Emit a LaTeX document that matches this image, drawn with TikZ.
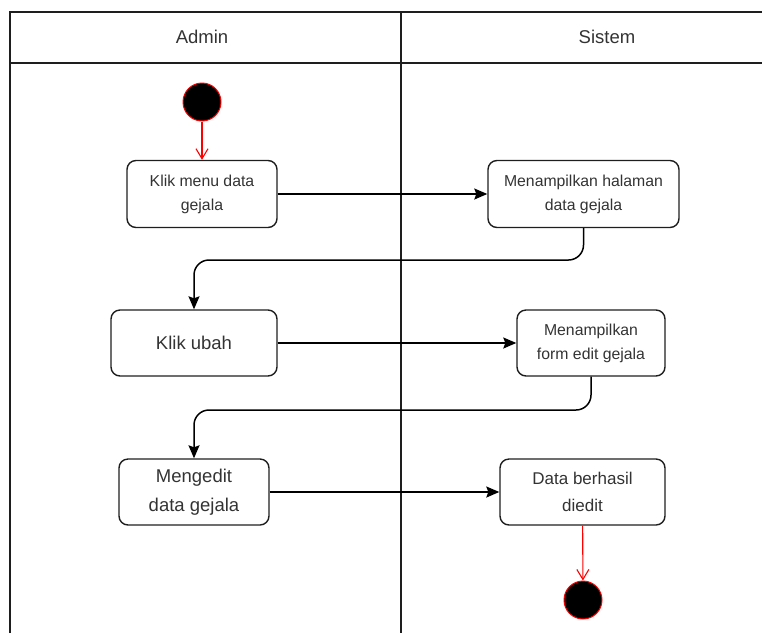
\documentclass[tikz,border=0pt]{standalone}
\usepackage{fontspec}
\setmainfont{Liberation Sans}
\usetikzlibrary{arrows.meta}
\definecolor{txt}{RGB}{51,51,51}
\definecolor{ln}{RGB}{30,30,30}
\definecolor{umlred}{RGB}{255,0,0}
\tikzset{
  lane/.style={draw=ln, line width=1.3pt},
  act/.style={draw=ln, line width=1.4pt, rounded corners=9pt, align=center, text=txt, inner sep=2pt},
  small/.style={font=\fontsize{15.8}{24}\selectfont},
  big/.style={font=\fontsize{18.5}{29}\selectfont},
  mid/.style={font=\fontsize{17}{27}\selectfont},
  flow/.style={draw=black, line width=1.5pt, -{Stealth[inset=2pt,length=13pt,width=11pt]}},
  redflow/.style={draw=umlred, line width=1.1pt, -{Straight Barb[length=10pt,width=12pt,line width=1.1pt]}},
  dot/.style={circle, fill=black, draw=umlred, line width=1pt, minimum size=38pt, inner sep=0pt},
  hdr/.style={font=\fontsize{18.5}{22}\selectfont, text=txt}
}
\begin{document}
\begin{tikzpicture}[x=1pt,y=-1pt]
\useasboundingbox (0,0) rectangle (762,633);
% swimlane frame
\draw[lane] (10,633) -- (10,12) -- (762,12);
\draw[lane] (10,63) -- (762,63);
\draw[lane] (401,12) -- (401,633);
\node[hdr] (hA) at (202,37) {Admin};
\node[hdr] (hS) at (607,37) {Sistem};
% nodes
\node[dot] (start) at (202,102) {};
\node[act, small, minimum width=150pt, minimum height=67pt] (b1) at (202,194) {Klik menu data\\gejala};
\node[act, small, minimum width=191pt, minimum height=67pt] (b2) at (583.5,194) {Menampilkan halaman\\data gejala};
\node[act, big, minimum width=166pt, minimum height=66pt] (b3) at (194,343) {Klik ubah};
\node[act, small, minimum width=148pt, minimum height=66pt] (b4) at (591,343) {Menampilkan\\form edit gejala};
\node[act, big, minimum width=150pt, minimum height=66pt] (b5) at (194,492) {Mengedit\\data gejala};
\node[act, mid, minimum width=165pt, minimum height=66pt] (b6) at (582.5,492) {Data berhasil\\diedit};
\node[dot] (end) at (583,600) {};
\coordinate (j1) at (0,260);
\coordinate (j2) at (0,410);
% connectors
\draw[redflow] (start) -- (b1);
\draw[flow] (b1) -- (b2);
\draw[flow, rounded corners=15pt] (b2.south) -- (b2.south |- j1) -- (b3.north |- j1) -- (b3.north);
\draw[flow] (b3) -- (b4);
\draw[flow, rounded corners=15pt] (b4.south) -- (b4.south |- j2) -- (b5.north |- j2) -- (b5.north);
\draw[flow] (b5) -- (b6);
\draw[redflow] (b6) -- (end);
\end{tikzpicture}
\end{document}
